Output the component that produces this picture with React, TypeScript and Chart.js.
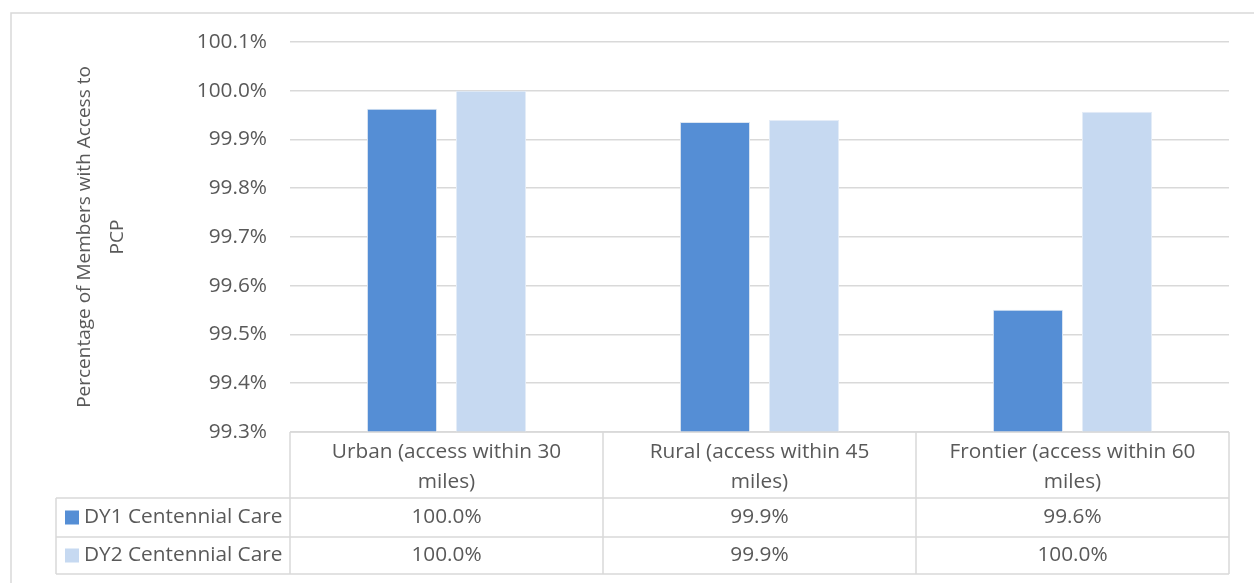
import React, { useEffect, useRef } from "react";
import { Chart, registerables } from "chart.js";

Chart.register(...registerables);

const categories: string[][] = [
  ["Urban (access within 30", "miles)"],
  ["Rural (access within 45", "miles)"],
  ["Frontier (access within 60", "miles)"],
];
const seriesNames = ["DY1 Centennial Care", "DY2 Centennial Care"];
const dy1Values = [99.963, 99.936, 99.551];
const dy2Values = [100.0, 99.94, 99.957];
const yMin = 99.3;
const yMax = 100.1;
const yStep = 0.1;
const axisTitle = ["Percentage of Members with Access to", "PCP"];
const seriesColors = ["#558ED5", "#C6D9F1"];

const FONT = "'Open Sans', 'DejaVu Sans', sans-serif";
const TEXT = "#595959";
const LINE = "#D9D9D9";
const FS = 20.8;

const fmt = (v: number) => v.toFixed(1) + "%";

const tablePlugin = {
  id: "dataTable",
  beforeDraw(chart: any) {
    const ctx = chart.ctx;
    ctx.save();
    ctx.strokeStyle = LINE;
    ctx.lineWidth = 1.5;
    ctx.strokeRect(11, 13, 1400, 800);
    ctx.restore();
  },
  afterDraw(chart: any) {
    const ctx = chart.ctx;
    const xs = chart.scales.x;
    const area = chart.chartArea;
    const n = chart.data.labels.length;
    const half = (xs.getPixelForTick(1) - xs.getPixelForTick(0)) / 2;
    const left = xs.getPixelForTick(0) - half;
    const right = xs.getPixelForTick(n - 1) + half;
    const top = area.bottom;
    const headerBottom = top + 66;
    const rowH = [39, 37];
    const legendLeft = 56;
    const rowBottoms = [headerBottom + rowH[0], headerBottom + rowH[0] + rowH[1]];

    ctx.save();
    ctx.strokeStyle = LINE;
    ctx.lineWidth = 1.5;
    ctx.beginPath();
    ctx.moveTo(left, top);
    ctx.lineTo(right, top);
    ctx.moveTo(legendLeft, headerBottom);
    ctx.lineTo(right, headerBottom);
    rowBottoms.forEach((y) => {
      ctx.moveTo(legendLeft, y);
      ctx.lineTo(right, y);
    });
    ctx.moveTo(legendLeft, headerBottom);
    ctx.lineTo(legendLeft, rowBottoms[1]);
    for (let i = 0; i <= n; i++) {
      const x = left + i * half * 2;
      ctx.moveTo(x, top);
      ctx.lineTo(x, rowBottoms[1]);
    }
    ctx.stroke();

    ctx.font = `${FS}px ${FONT}`;
    ctx.textBaseline = "middle";
    chart.data.datasets.forEach((ds: any, di: number) => {
      const rowTop = di === 0 ? headerBottom : rowBottoms[0];
      const cy = (rowTop + rowBottoms[di]) / 2;
      ctx.fillStyle = ds.backgroundColor;
      ctx.fillRect(65, cy - 7, 14, 14);
      ctx.fillStyle = TEXT;
      ctx.textAlign = "left";
      ctx.fillText(ds.label, 84, cy);
      ctx.textAlign = "center";
      ds.data.forEach((v: number, i: number) => {
        ctx.fillText(fmt(v), xs.getPixelForTick(i), cy);
      });
    });
    ctx.restore();
  },
};

export default function App() {
  const ref = useRef<HTMLCanvasElement | null>(null);

  useEffect(() => {
    document.body.style.margin = "0";
    const canvas = ref.current!;
    const chart = new Chart(canvas, {
      type: "bar",
      data: {
        labels: categories,
        datasets: [
          {
            label: seriesNames[0],
            data: dy1Values,
            backgroundColor: seriesColors[0],
            borderColor: "#DCE6F2",
            borderWidth: 1,
          },
          {
            label: seriesNames[1],
            data: dy2Values,
            backgroundColor: seriesColors[1],
            borderColor: "#E4ECF7",
            borderWidth: 1,
          },
        ],
      },
      options: {
        animation: false,
        responsive: false,
        devicePixelRatio: 1,
        layout: { padding: { left: 0, right: 25, top: 42, bottom: 0 } },
        datasets: {
          bar: { categoryPercentage: 0.569, barPercentage: 0.787 },
        },
        plugins: {
          legend: { display: false },
          tooltip: { enabled: false },
        },
        scales: {
          x: {
            grid: { display: false },
            border: { display: false },
            ticks: {
              color: TEXT,
              font: { family: FONT, size: FS, lineHeight: 1.4 },
              padding: -2,
              maxRotation: 0,
              autoSkip: false,
            },
            afterFit: (scale: any) => {
              scale.height = 151;
            },
          },
          y: {
            min: yMin,
            max: yMax,
            grid: { color: LINE, lineWidth: 1.5, drawTicks: false },
            border: { display: false },
            ticks: {
              stepSize: yStep,
              color: TEXT,
              padding: 23,
              font: { family: FONT, size: FS },
              callback: (v: any) => Number(v).toFixed(1) + "%",
            },
            title: {
              display: true,
              text: axisTitle,
              color: TEXT,
              font: { family: FONT, size: 19, lineHeight: 1.75 },
              padding: { top: 68, bottom: 0 },
            },
            afterFit: (scale: any) => {
              scale.width = 290;
            },
          },
        },
      },
      plugins: [tablePlugin],
    });
    return () => chart.destroy();
  }, []);

  return (
    <div style={{ width: 1254, height: 583, background: "#fff" }}>
      <canvas ref={ref} width={1254} height={583} style={{ display: "block" }} />
    </div>
  );
}
